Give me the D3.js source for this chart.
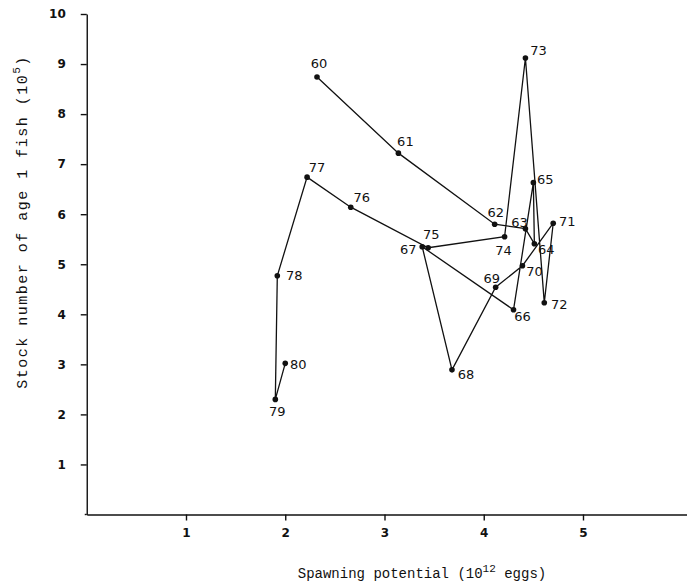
<!DOCTYPE html>
<html>
<head>
<meta charset="utf-8">
<script src="https://cdn.jsdelivr.net/npm/d3@7/dist/d3.min.js"></script>
<style>
  html, body { margin: 0; padding: 0; background: #fff; }
  svg { display: block; }
</style>
</head>
<body>
<svg id="chart" width="687" height="587"></svg>
<script>
// ---- Data ----
const years = ["60","61","62","63","64","65","66","67","68","69","70","71","72","73","74","75","76","77","78","79","80"];
const spawning = [2.32, 3.14, 4.11, 4.42, 4.51, 4.50, 4.30, 3.38, 3.68, 4.12, 4.39, 4.70, 4.61, 4.42, 4.21, 3.44, 2.66, 2.22, 1.92, 1.90, 2.00];
const stock    = [8.74, 7.22, 5.80, 5.71, 5.41, 6.63, 4.09, 5.35, 2.89, 4.54, 4.97, 5.82, 4.23, 9.12, 5.55, 5.33, 6.14, 6.74, 4.77, 2.30, 3.02];
const xTicks = [1, 2, 3, 4, 5];
const yTicks = [1, 2, 3, 4, 5, 6, 7, 8, 9, 10];
// label offsets (pixels) from each point
const labelDx = [ 2,  7,  1, -6, 12, 12,  9, -14, 14, -4, 12, 14, 15, 13, -1,  3, 11, 10, 17,  2, 13];
const labelDy = [-14,-12,-12, -6,  6, -3,  7,   3,  5, -9,  6, -2,  2, -8, 14,-13,-10,-10,  0, 12,  1];

const svg = d3.select("#chart");

const x = d3.scaleLinear().domain([0, 6.05]).range([86.75, 687.2]);
const y = d3.scaleLinear().domain([0, 10]).range([514.5, 14]);

// Axes
const xAxis = d3.axisBottom(x).tickValues(xTicks).tickSize(6).tickSizeOuter(0).tickPadding(8).tickFormat(d3.format("d"));
const yAxis = d3.axisLeft(y).tickValues(yTicks).tickSize(6).tickSizeOuter(0).tickPadding(15).tickFormat(d3.format("d"));

const gx = svg.append("g").attr("transform", `translate(0,${y(0)})`).call(xAxis);
const gy = svg.append("g").attr("transform", `translate(${x(0)},0)`).call(yAxis);

[gx, gy].forEach(g => {
  g.select(".domain").attr("stroke", "#111").attr("stroke-width", 1.4);
  g.selectAll(".tick line").attr("stroke", "#111").attr("stroke-width", 1.4);
  g.selectAll(".tick text")
    .attr("fill", "#111")
    .style("font-family", "'DejaVu Sans', sans-serif")
    .style("font-weight", "bold")
    .style("font-size", "12px");
});
// extend x axis line to the corner
svg.append("line")
  .attr("x1", x(0) - 2).attr("x2", x(0)).attr("y1", y(0)).attr("y2", y(0))
  .attr("stroke", "#111").attr("stroke-width", 1.4);

// Points data
const pts = years.map((yr, i) => ({yr, sx: spawning[i], st: stock[i], dx: labelDx[i], dy: labelDy[i]}));

// Connecting line in chronological order
const line = d3.line().x(d => x(d.sx)).y(d => y(d.st));
svg.append("path")
  .datum(pts)
  .attr("d", line)
  .attr("fill", "none")
  .attr("stroke", "#111")
  .attr("stroke-width", 1.3);

// Dots
svg.selectAll("circle.pt")
  .data(pts)
  .join("circle")
  .attr("class", "pt")
  .attr("cx", d => x(d.sx))
  .attr("cy", d => y(d.st))
  .attr("r", 2.8)
  .attr("fill", "#111");

// Year labels
svg.selectAll("text.yr")
  .data(pts)
  .join("text")
  .attr("class", "yr")
  .attr("x", d => x(d.sx) + d.dx)
  .attr("y", d => y(d.st) + d.dy)
  .attr("text-anchor", "middle")
  .attr("dominant-baseline", "central")
  .style("font-family", "'DejaVu Sans', sans-serif")
  .style("font-size", "13px")
  .attr("fill", "#111")
  .text(d => d.yr);

// Axis titles
const xt = svg.append("text")
  .attr("x", 422).attr("y", 578)
  .attr("text-anchor", "middle")
  .style("font-family", "'Liberation Mono', monospace")
  .style("font-size", "14px")
  .attr("fill", "#111");
xt.append("tspan").text("Spawning potential (10");
xt.append("tspan").attr("dy", -6).style("font-size", "11px").text("12");
xt.append("tspan").attr("dy", 6).text(" eggs)");

const yt = svg.append("text")
  .attr("transform", "translate(27,222) rotate(-90)")
  .attr("text-anchor", "middle")
  .style("font-family", "'Liberation Mono', monospace")
  .style("font-size", "15px")
  .style("letter-spacing", "1.5px")
  .attr("fill", "#111");
yt.append("tspan").text("Stock number of age 1 fish (10");
yt.append("tspan").attr("dy", -7).style("font-size", "11px").text("5");
yt.append("tspan").attr("dy", 7).text(")");
</script>
</body>
</html>
